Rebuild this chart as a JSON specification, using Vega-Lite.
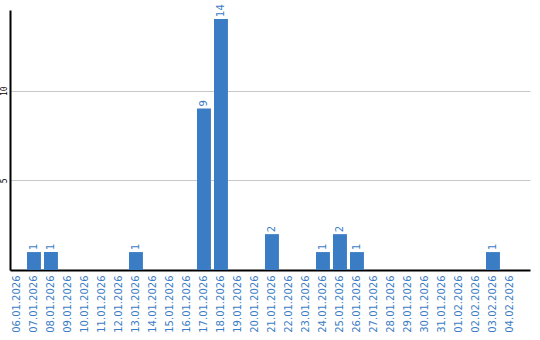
{
  "$schema": "https://vega.github.io/schema/vega-lite/v6.json",
  "width": 520,
  "height": 260,
  "autosize": {"type": "none"},
  "padding": {"left": 10, "top": 10, "right": 10, "bottom": 70},
  "background": "white",
  "config": {"view": {"stroke": null}},
  "data": {"values": [
    {"date": "06.01.2026", "count": 0},
    {"date": "07.01.2026", "count": 1},
    {"date": "08.01.2026", "count": 1},
    {"date": "09.01.2026", "count": 0},
    {"date": "10.01.2026", "count": 0},
    {"date": "11.01.2026", "count": 0},
    {"date": "12.01.2026", "count": 0},
    {"date": "13.01.2026", "count": 1},
    {"date": "14.01.2026", "count": 0},
    {"date": "15.01.2026", "count": 0},
    {"date": "16.01.2026", "count": 0},
    {"date": "17.01.2026", "count": 9},
    {"date": "18.01.2026", "count": 14},
    {"date": "19.01.2026", "count": 0},
    {"date": "20.01.2026", "count": 0},
    {"date": "21.01.2026", "count": 2},
    {"date": "22.01.2026", "count": 0},
    {"date": "23.01.2026", "count": 0},
    {"date": "24.01.2026", "count": 1},
    {"date": "25.01.2026", "count": 2},
    {"date": "26.01.2026", "count": 1},
    {"date": "27.01.2026", "count": 0},
    {"date": "28.01.2026", "count": 0},
    {"date": "29.01.2026", "count": 0},
    {"date": "30.01.2026", "count": 0},
    {"date": "31.01.2026", "count": 0},
    {"date": "01.02.2026", "count": 0},
    {"date": "02.02.2026", "count": 0},
    {"date": "03.02.2026", "count": 1},
    {"date": "04.02.2026", "count": 0}
  ]},
  "encoding": {
    "x": {
      "field": "date", "type": "nominal", "sort": null,
      "scale": {"paddingInner": 0.18, "paddingOuter": 0.384, "align": 0},
      "axis": {
        "title": null, "ticks": false, "labelAngle": -90, "labelAlign": "right",
        "labelBaseline": "middle", "labelPadding": 5, "labelColor": "#3b7dc4",
        "labelFont": "DejaVu Sans", "labelFontSize": 10, "domainColor": "#000000",
        "domainWidth": 2, "grid": false
      }
    },
    "y": {
      "field": "count", "type": "quantitative",
      "scale": {"domain": [0, 14.5], "nice": false},
      "axis": {
        "title": null, "ticks": false, "values": [5, 10], "labelAngle": -90,
        "labelAlign": "center", "labelBaseline": "bottom", "labelPadding": 2,
        "labelFont": "DejaVu Sans Mono", "labelFontSize": 8, "labelColor": "#000000",
        "domainColor": "#000000", "domainWidth": 2, "grid": true, "gridColor": "#c8c8c8",
        "gridWidth": 1
      }
    }
  },
  "layer": [
    {"mark": {"type": "bar", "color": "#3b7dc4"}},
    {
      "transform": [{"filter": "datum.count > 0"}],
      "mark": {"type": "text", "angle": -90, "align": "left", "baseline": "middle",
               "dx": 2, "font": "DejaVu Sans", "fontSize": 10, "color": "#3b7dc4"},
      "encoding": {"text": {"field": "count", "type": "quantitative"}}
    }
  ]
}
